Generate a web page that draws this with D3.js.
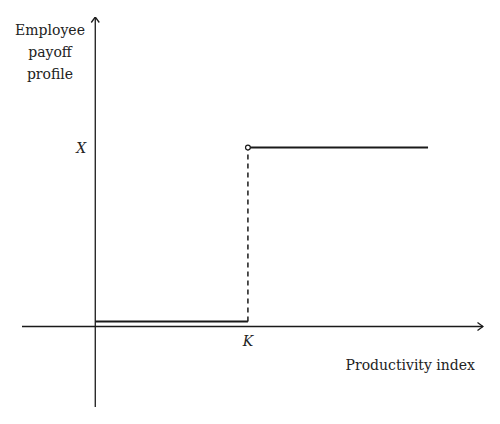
<!DOCTYPE html>
<html><head><meta charset="utf-8">
<script src="https://cdn.jsdelivr.net/npm/d3@7"></script>
<style>body{margin:0;background:#fff}svg{display:block}text{font-family:"DejaVu Serif","Liberation Serif",serif;fill:#222}</style>
</head><body><svg id="c" width="500" height="424"></svg>
<script>
// Data (abstract units: K = 1 on x, X = 1 on y)
const xDomain = [-0.48, 2.54];      // horizontal axis extent
const yDomain = [-0.45, 1.73];      // vertical axis extent
const lowSegment = [[0, 0.028], [1, 0.028]];   // payoff below K
const highSegment = [[1, 1], [2.18, 1]];       // payoff at/above K
const jump = [[1, 0.028], [1, 1]];             // dashed discontinuity
const xTickLabels = [{v: 1, t: "K"}];
const yTickLabels = [{v: 1, t: "X"}];
const yTitle = ["Employee", "payoff", "profile"];
const xTitle = "Productivity index";

const svg = d3.select("#c");
const x = d3.scaleLinear().domain(xDomain).range([22, 483]);
const y = d3.scaleLinear().domain(yDomain).range([407, 17]);
const ink = "#1a1a1a";

// arrow marker
svg.append("defs").append("marker").attr("id","arr").attr("viewBox","0 0 10 10")
  .attr("refX",9.5).attr("refY",5).attr("markerWidth",10).attr("markerHeight",10)
  .attr("markerUnits","userSpaceOnUse").attr("orient","auto")
  .append("path").attr("d","M4,1 L9.5,5 L4,9").attr("fill","none").attr("stroke",ink).attr("stroke-width",1.3);

// axes
svg.append("line").attr("x1",x(xDomain[0])).attr("x2",x(xDomain[1])).attr("y1",y(0)).attr("y2",y(0))
  .attr("stroke",ink).attr("stroke-width",1.3).attr("marker-end","url(#arr)");
svg.append("line").attr("x1",x(0)).attr("x2",x(0)).attr("y1",y(yDomain[0])).attr("y2",y(yDomain[1]))
  .attr("stroke",ink).attr("stroke-width",1.3).attr("marker-end","url(#arr)");

const line = d3.line().x(d=>x(d[0])).y(d=>y(d[1]));
svg.append("path").attr("d",line(lowSegment)).attr("fill","none").attr("stroke",ink).attr("stroke-width",2);
svg.append("path").attr("d",line(highSegment)).attr("fill","none").attr("stroke",ink).attr("stroke-width",2);
svg.append("path").attr("d",line(jump)).attr("fill","none").attr("stroke",ink).attr("stroke-width",1.5).attr("stroke-dasharray","5,4");
svg.append("circle").attr("cx",x(highSegment[0][0])).attr("cy",y(highSegment[0][1])).attr("r",2.4)
  .attr("fill","#fff").attr("stroke",ink).attr("stroke-width",1.2);

// tick labels
svg.selectAll(".xt").data(xTickLabels).join("text").attr("x",d=>x(d.v)).attr("y",y(0)+20)
  .attr("text-anchor","middle").attr("font-style","italic").attr("font-size",14).text(d=>d.t);
svg.selectAll(".yt").data(yTickLabels).join("text").attr("x",x(0)-9).attr("y",y(1)+5)
  .attr("text-anchor","end").attr("font-style","italic").attr("font-size",14).text(d=>d.t);

// axis titles
svg.selectAll(".yl").data(yTitle).join("text").attr("x",50).attr("y",(d,i)=>35+i*22)
  .attr("text-anchor","middle").attr("font-size",14).text(d=>d);
svg.append("text").attr("x",475).attr("y",370).attr("text-anchor","end").attr("font-size",14).text(xTitle);
</script></body></html>
